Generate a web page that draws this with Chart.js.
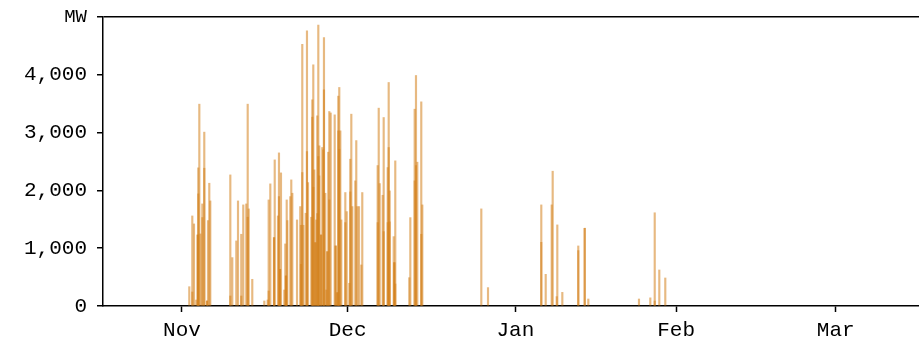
<!DOCTYPE html>
<html>
<head>
<meta charset="utf-8">
<script src="https://cdn.jsdelivr.net/npm/chart.js@4.4.1/dist/chart.umd.min.js"></script>
<style>
  html, body { margin: 0; padding: 0; background: #fff; }
  canvas { display: block; }
</style>
</head>
<body>
<canvas id="chart" width="919" height="341"></canvas>
<script>
// days counted from Oct 1 (Nov 1 = day 31)
const days = [
  32.34, 32.89, 33.20, 33.62, 33.88, 33.99, 34.18, 34.36, 34.73, 35.09,
  35.59, 35.77, 36.01, 36.19, 39.87, 40.23, 40.97, 41.28, 41.88, 42.25,
  42.80, 43.06, 43.24, 43.90, 46.11, 46.73, 46.91, 47.21, 47.89, 48.02,
  48.62, 48.80, 48.99, 49.17, 49.78, 49.96, 50.09, 50.22, 50.33, 50.88,
  51.06, 51.25, 52.11, 52.71, 52.84, 53.08, 53.27, 53.71, 53.94, 54.13,
  54.73, 54.92, 55.10, 55.28, 55.47, 55.65, 55.83, 56.02, 56.20, 56.51,
  56.75, 56.93, 57.06, 57.30, 57.48, 57.67, 57.85, 58.04, 58.29, 59.03,
  59.21, 59.51, 59.69, 59.87, 60.06, 60.24, 60.98, 61.23, 61.71, 61.89,
  62.08, 62.26, 62.81, 62.99, 63.18, 63.49, 63.91, 64.09, 66.92, 67.11,
  67.29, 67.84, 68.02, 68.76, 68.94, 69.12, 69.86, 69.97, 70.15, 72.72,
  72.91, 73.71, 73.95, 74.19, 74.92, 75.11, 85.94, 87.17, 96.95, 97.76,
  98.86, 99.04, 99.78, 99.89, 100.81, 103.74, 104.92, 105.58, 114.88, 116.96,
  117.77, 118.61, 119.71,
];

const peakMW = [
  334, 1558, 1420, 104, 1229, 2390, 3492, 1247, 1766, 3008,
  87, 1478, 2124, 1818, 2268, 837, 1126, 1818, 1241, 1749,
  1766, 3492, 1680, 462, 87, 104, 1835, 2113, 1183, 2528,
  1558, 2649, 635, 2303, 277, 1074, 520, 1835, 1478, 1893,
  2182, 1951, 1489, 1720, 1397, 4526, 1397, 1605, 4762, 2135,
  1536, 3567, 4173, 2355, 1096, 1489, 3290, 4860, 2771, 1229,
  2742, 2701, 4646, 1951, 277, 940, 2661, 3365, 3340, 3307,
  1039, 231, 3631, 3781, 3030, 1489, 1963, 1633, 393, 2540,
  3319, 1720, 2165, 2862, 1720, 1720, 710, 1963, 2430, 3423,
  2118, 1916, 3261, 2395, 3867, 1991, 1200, 750, 2511, 490,
  1529, 3405, 3988, 2488, 3532, 1749, 1680, 318, 1749, 548,
  1749, 2332, 162, 1403, 236, 1039, 1345, 121, 121, 141,
  1613, 623, 485,
];

const overlapMW = [
  null, 242, null, null, 1229, 1940, null, null, 1530, 2384,
  87, null, null, null, 173, null, null, null, 173, null,
  null, 1536, null, null, null, null, 260, null, 1183, null,
  null, 1893, 635, null, null, null, 520, null, null, null,
  null, null, null, null, 722, 2309, null, null, 2672, null,
  null, 3267, 2055, null, 1096, null, 1600, 2586, 2251, 1229,
  null, null, 3740, null, null, 940, null, 1835, null, null,
  1039, 231, 3030, 2713, null, null, 1443, null, null, 1974,
  null, null, null, null, null, null, null, null, 1443, null,
  null, null, 1287, 1443, 2742, 1455, null, 750, 381, null,
  null, 2165, 2430, null, 1241, null, null, null, 1102, null,
  null, null, null, null, null, 958, 1345, null, null, null,
  87, null, null,
];

const monthLabels = ["Nov", "Dec", "Jan", "Feb", "Mar"];
const monthTickDays = [31, 61.4, 92.2, 121.7, 151];
const yTicks = [0, 1000, 2000, 3000, 4000, 5000];
const unitLabel = "MW";

const FONT = "'Liberation Mono', 'DejaVu Sans Mono', monospace";
const BAR_COLOR = "rgba(212, 128, 26, 0.55)";

function toPoints(values) {
  return days.map((d, i) => ({ x: d, y: values[i] }));
}

function fmtMW(value) {
  if (value === 5000) return unitLabel;
  return Number(value).toLocaleString("en-US");
}

const ctx = document.getElementById("chart").getContext("2d");

new Chart(ctx, {
  type: "bar",
  data: {
    datasets: [
      { label: "peak", data: toPoints(peakMW), backgroundColor: BAR_COLOR, barThickness: 1.5, grouped: false },
      { label: "overlap", data: toPoints(overlapMW), backgroundColor: BAR_COLOR, barThickness: 1.5, grouped: false },
    ],
  },
  options: {
    responsive: false,
    animation: false,
    layout: { padding: { left: 0, right: 0, top: 0, bottom: 0 } },
    plugins: { legend: { display: false }, tooltip: { enabled: false } },
    scales: {
      x: {
        type: "linear",
        offset: false,
        min: 16.5,
        max: 166.28,
        afterBuildTicks: (scale) => {
          scale.ticks = monthTickDays.map((v) => ({ value: v }));
        },
        afterFit: (scale) => { scale.height = 35; },
        border: { display: true, color: "#000", width: 1.5 },
        grid: { offset: false, color: "transparent", tickColor: "#000", tickLength: 6, tickWidth: 1.5 },
        ticks: {
          autoSkip: false,
          maxRotation: 0,
          padding: 6,
          color: "#000",
          font: { family: FONT, size: 21 },
          callback: (value, index) => monthLabels[index],
        },
      },
      y: {
        min: 0,
        max: 5000,
        afterBuildTicks: (scale) => {
          scale.ticks = yTicks.map((v) => ({ value: v }));
        },
        afterFit: (scale) => {
          scale.width = 103;
          scale.paddingTop = 17;
        },
        border: { display: true, color: "#000", width: 1.5 },
        grid: {
          color: (c) => (c.tick && c.tick.value === 5000 ? "#000" : "transparent"),
          lineWidth: 1.5,
          tickColor: "#000",
          tickLength: 6,
          tickWidth: 1.5,
        },
        ticks: {
          padding: 10,
          color: "#000",
          font: (c) => ({ family: FONT, size: c.tick && c.tick.value === 5000 ? 19 : 21 }),
          callback: (value) => fmtMW(value),
        },
      },
    },
  },
});
</script>
</body>
</html>
